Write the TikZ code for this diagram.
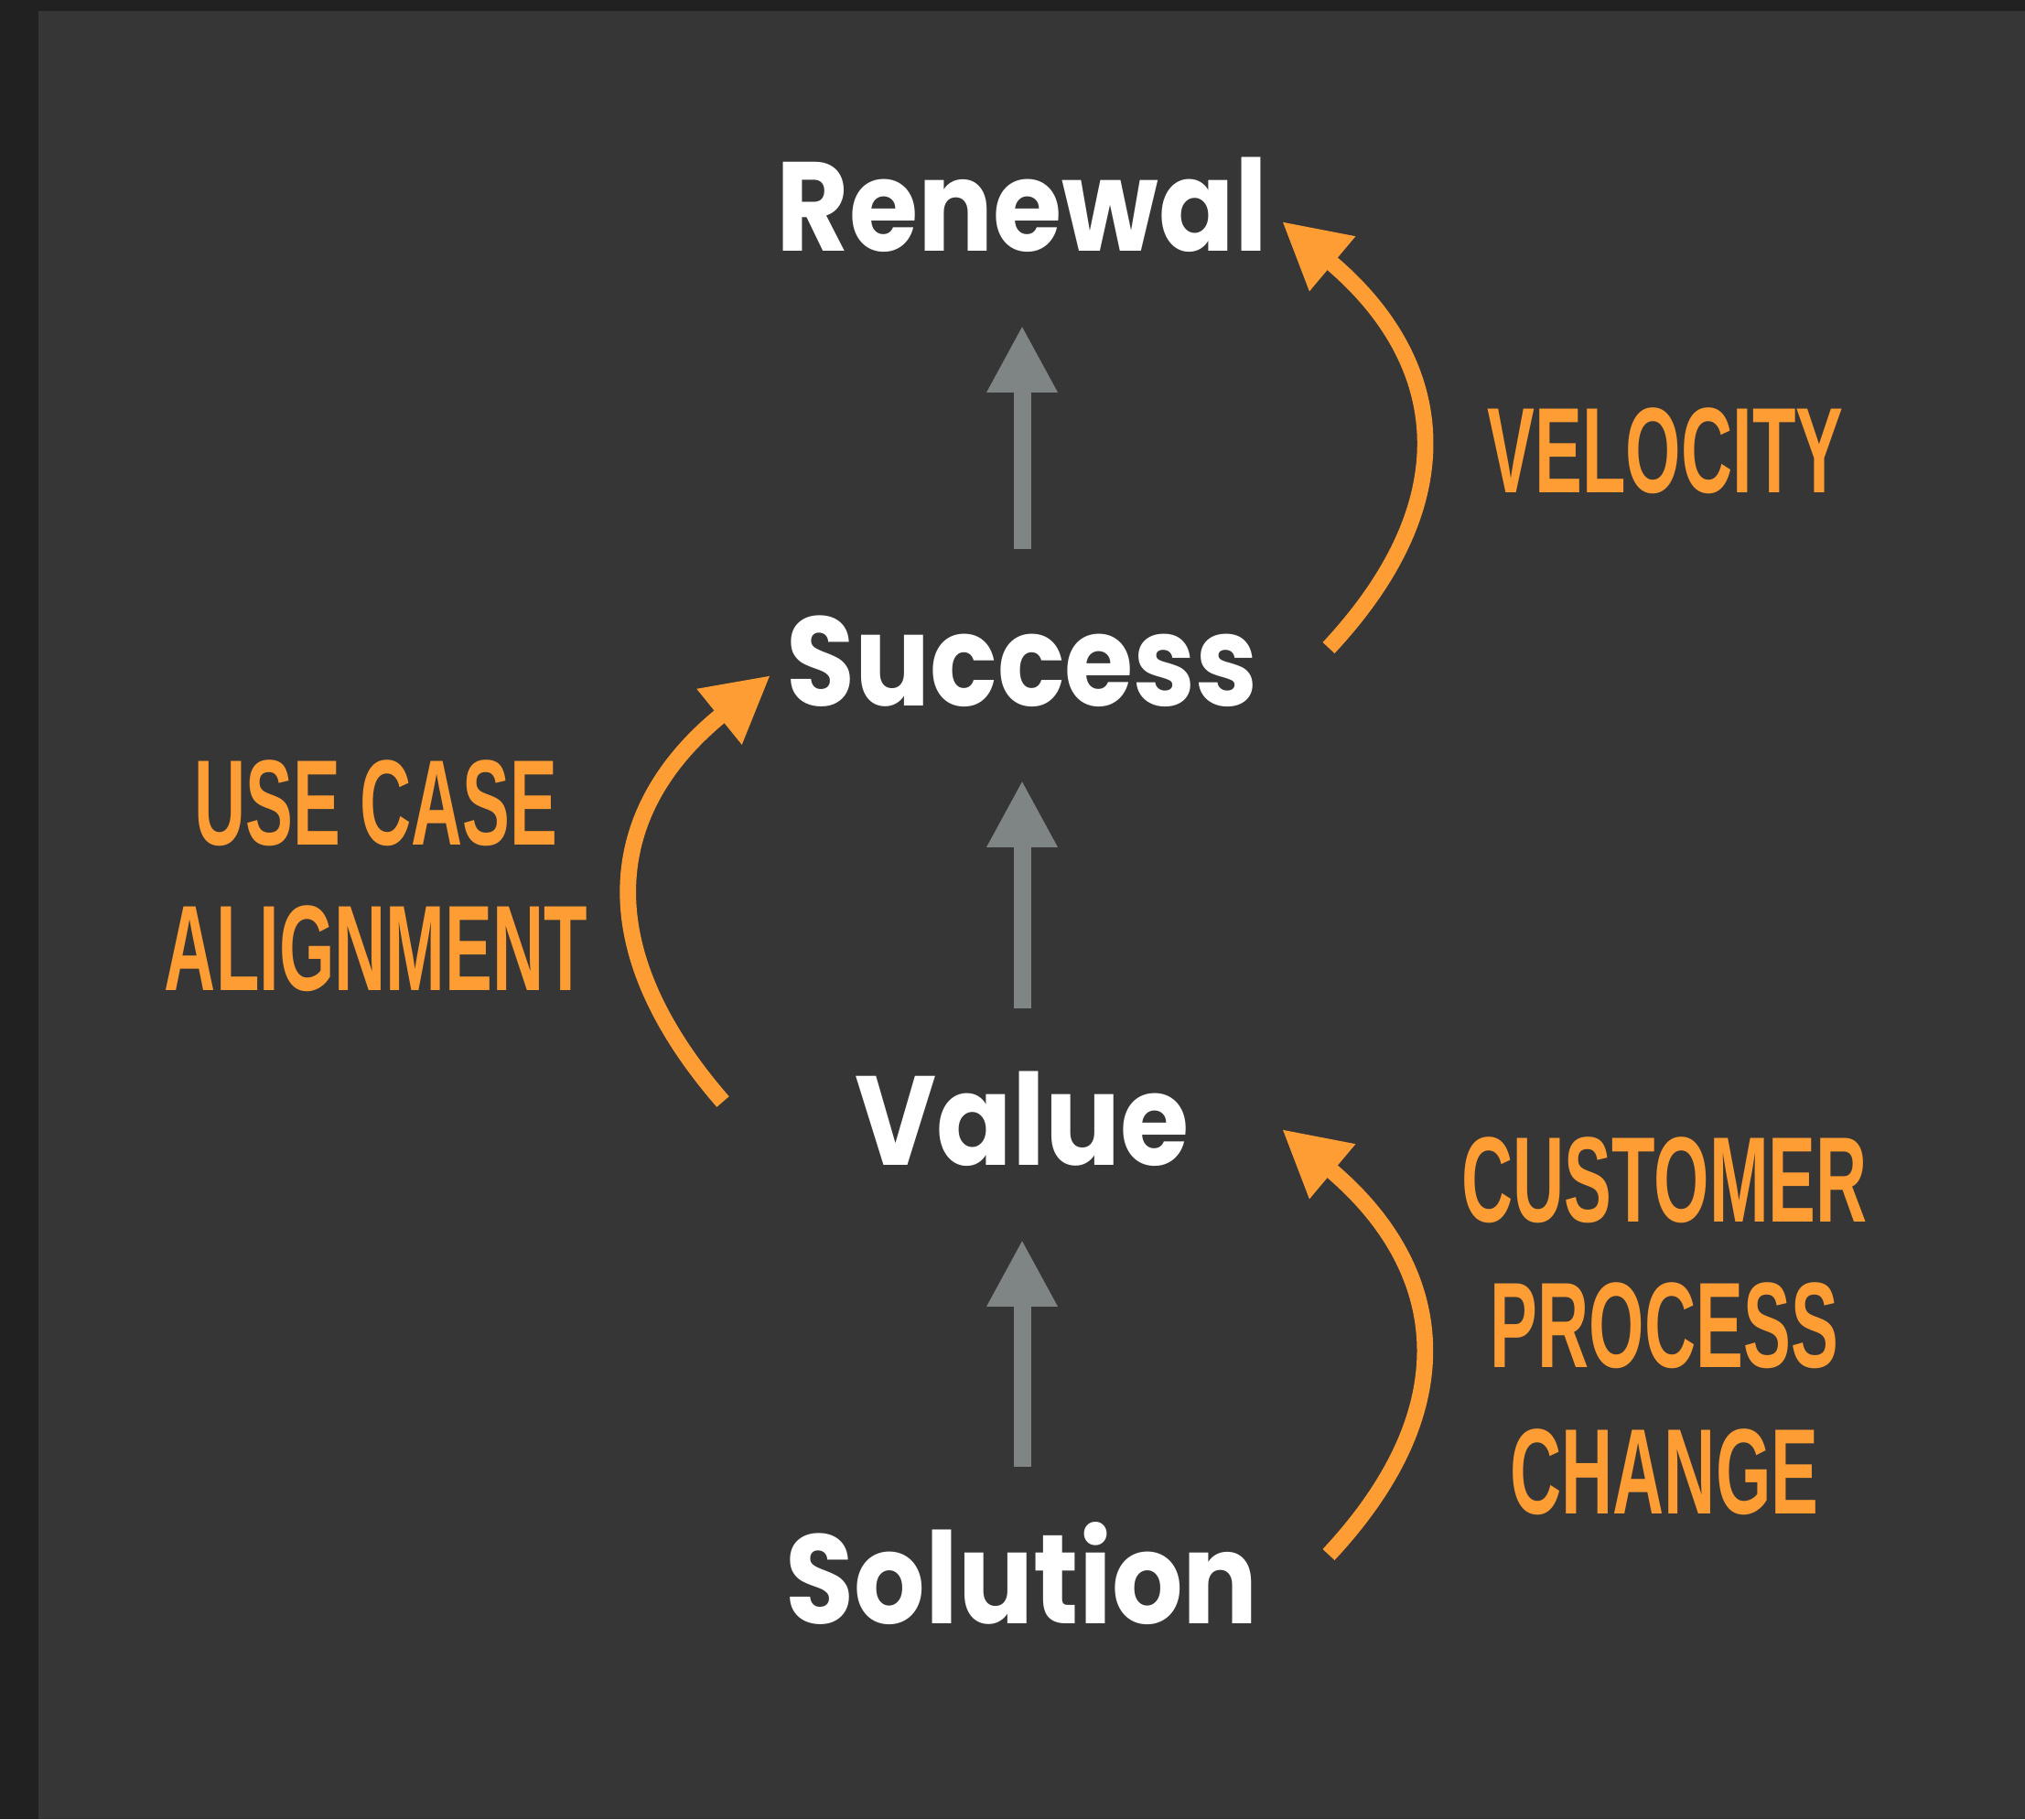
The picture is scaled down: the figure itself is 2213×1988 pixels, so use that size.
\documentclass[tikz,border=0pt]{standalone}
\usepackage{fontspec}
\setmainfont{Poppins}[FakeStretch=0.88]
\newfontfamily\dinfont[FakeStretch=0.585]{Liberation Sans}
\usetikzlibrary{arrows.meta}

\definecolor{framegray}{HTML}{212121}
\definecolor{panelgray}{HTML}{363636}
\definecolor{stepgray}{HTML}{7F8485}
\definecolor{accent}{HTML}{FE9D33}

\tikzset{
    stage/.style = { text = white, font = \fontsize{39.4}{44}\selectfont\bfseries,
                     inner sep = 0pt, text height = 0.97cm, text depth = 0pt, anchor = base },
    driver/.style = { text = accent, font = \dinfont\bfseries\fontsize{37.8}{45.3}\selectfont,
                      align = center, inner sep = 0pt, anchor = north },
    steparrow/.style = { draw = stepgray, line width = 0.19cm,
                         -{Triangle[width=0.72cm,length=0.73cm]},
                         shorten < = 0.73cm, shorten > = 0.81cm },
    drivearrow/.style = { draw = accent, line width = 0.177cm,
                          -{Triangle[width=0.73cm,length=0.72cm]} }
}

\begin{document}
\begin{tikzpicture}[ x = 0.01cm, y = 0.01cm ]
        % фон
        \fill [ framegray ] ( 0, 0 ) rectangle ( 2213, -1988 );
        \fill [ panelgray ] ( 42, -12 ) rectangle ( 2213, -1988 );
        \useasboundingbox ( 0, 0 ) rectangle ( 2213, -1988 );

        % ступени
        \node [ stage ] (renewal) at ( 1117, -274 ) {Renewal};
        \node [ stage ] (success) at ( 1117, -771 ) {Success};
        \node [ stage ] (value) at ( 1117, -1273 ) {Value};
        \node [ stage ] (solution) at ( 1117, -1774 ) {Solution};

        % серые стрелки
        \draw [ steparrow ] (solution.north) -- (value.south);
        \draw [ steparrow ] (value.north) -- (success.south);
        \draw [ steparrow ] (success.north) -- (renewal.south);

        % подписи
        \node [ driver ] (velocity) at ( 1820, -445 ) {VELOCITY};
        \node [ driver ] (usecase) at ( 411, -830 ) {USE CASE\\ALIGNMENT};
        \node [ driver ] (process) at ( 1819, -1242 ) {CUSTOMER\\PROCESS\\CHANGE};

        % дуга 1
        \coordinate (v_from) at ( 1452, -708 );
        \coordinate (v_to) at ( 1401, -242 );
        \draw [ drivearrow ] (v_from) to [ out = 47, in = -40, looseness = 1.25 ] (v_to);

        % дуга 2
        \coordinate (a_from) at ( 790, -1204 );
        \coordinate (a_to) at ( 842, -738 );
        \draw [ drivearrow ] (a_from) to [ out = 131, in = -141, looseness = 1.25 ] (a_to);

        % дуга 3
        \coordinate (c_from) at ( 1452, -1699 );
        \coordinate (c_to) at ( 1401, -1234 );
        \draw [ drivearrow ] (c_from) to [ out = 47, in = -40, looseness = 1.25 ] (c_to);
\end{tikzpicture}
\end{document}
